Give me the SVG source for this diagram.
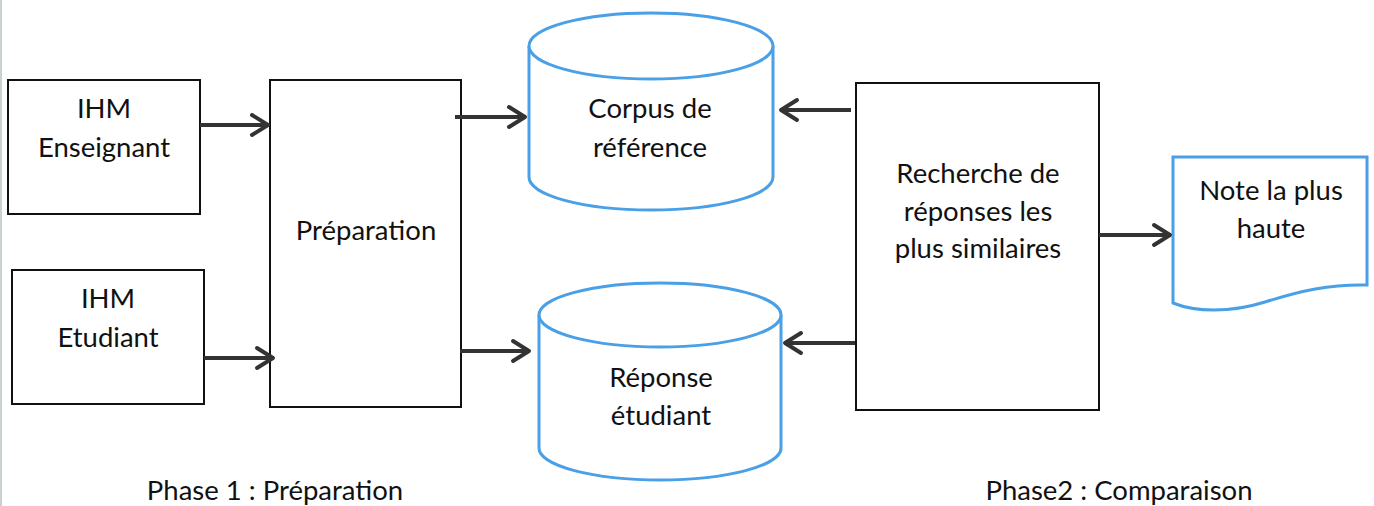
<svg xmlns="http://www.w3.org/2000/svg" width="1374" height="506" viewBox="0 0 1374 506">
<style>
.box{fill:#fff;stroke:#111;stroke-width:2}
.db{fill:#fff;stroke:#4aa0e6;stroke-width:3}
.t{font-family:Lato,"Liberation Sans",sans-serif;font-size:27.5px;fill:#111;text-anchor:middle}
.c{stroke:#333;stroke-width:4;fill:none}
.h{stroke:#333;stroke-width:4;fill:none;stroke-linecap:round;stroke-linejoin:round}
</style>
<rect x="0" y="0" width="1374" height="506" fill="#fff"/>
<rect x="0" y="0" width="2" height="506" fill="#c9d3cc"/>
<g id="ihm-enseignant">
<rect class="box" x="8" y="80" width="192" height="134"/>
<text class="t" x="104" y="118">IHM</text>
<text class="t" x="104" y="157">Enseignant</text>
</g>
<g id="ihm-etudiant">
<rect class="box" x="12" y="270" width="192" height="134"/>
<text class="t" x="108" y="308">IHM</text>
<text class="t" x="108" y="347">Etudiant</text>
</g>
<g id="preparation">
<rect class="box" x="270" y="80" width="191" height="327"/>
<text class="t" x="366" y="240">Préparation</text>
</g>
<g id="corpus">
<path class="db" d="M529,46 V177 A122,33 0 0 0 773,177 V46"/>
<ellipse class="db" cx="651" cy="46" rx="122" ry="33"/>
<text class="t" x="650" y="118">Corpus de</text>
<text class="t" x="650" y="157">référence</text>
</g>
<g id="reponse">
<path class="db" d="M539,315 V448 A121,32 0 0 0 781,448 V315"/>
<ellipse class="db" cx="660" cy="315" rx="121" ry="32"/>
<text class="t" x="661" y="387">Réponse</text>
<text class="t" x="661" y="425">étudiant</text>
</g>
<g id="recherche">
<rect class="box" x="856" y="83" width="243" height="327"/>
<text class="t" x="978" y="183">Recherche de</text>
<text class="t" x="978" y="221">réponses les</text>
<text class="t" x="978" y="258">plus similaires</text>
</g>
<g id="note">
<path class="db" d="M1173,157 H1367 V285 C1330,284 1300,291 1265,302 C1230,313 1195,312 1173,303 Z"/>
<text class="t" x="1271" y="200">Note la plus</text>
<text class="t" x="1271" y="238">haute</text>
</g>
<g id="connectors">
<line class="c" x1="200" y1="125" x2="268" y2="125"/>
<polyline class="h" points="252,115 268,125 252,135"/>
<line class="c" x1="204" y1="358" x2="273" y2="358"/>
<polyline class="h" points="257,348 273,358 257,368"/>
<line class="c" x1="455" y1="117" x2="525" y2="117"/>
<polyline class="h" points="509,107 525,117 509,127"/>
<line class="c" x1="460" y1="351" x2="529" y2="351"/>
<polyline class="h" points="513,341 529,351 513,361"/>
<line class="c" x1="851" y1="110" x2="781" y2="110"/>
<polyline class="h" points="797,100 781,110 797,120"/>
<line class="c" x1="855" y1="343" x2="785" y2="343"/>
<polyline class="h" points="801,333 785,343 801,353"/>
<line class="c" x1="1099" y1="235" x2="1170" y2="235"/>
<polyline class="h" points="1154,225 1170,235 1154,245"/>
</g>
<g id="labels">
<text class="t" x="275" y="500">Phase 1 : Préparation</text>
<text class="t" x="1119" y="500">Phase2 : Comparaison</text>
</g>
</svg>
